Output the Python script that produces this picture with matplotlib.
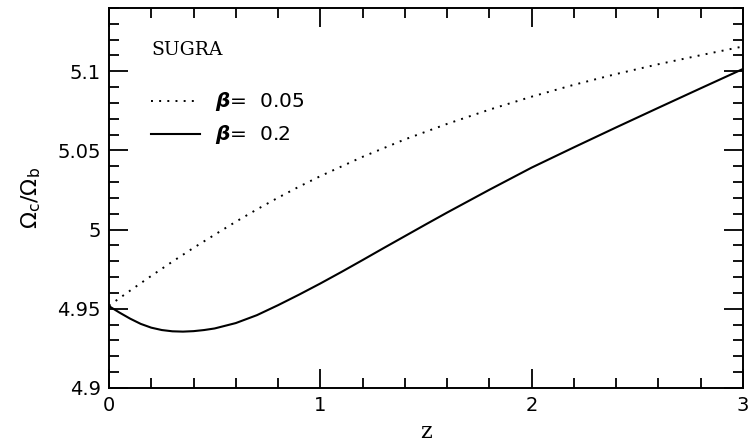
import matplotlib
matplotlib.use("Agg")
import matplotlib.pyplot as plt
from matplotlib.ticker import MultipleLocator

# Omega_c / Omega_b against redshift for two couplings
z_beta005 = [0.0, 0.1, 0.2, 0.3, 0.4, 0.5, 0.6, 0.7, 0.8, 0.9, 1.0, 1.2, 1.4, 1.6,
             1.8, 2.0, 2.2, 2.4, 2.6, 2.8, 3.0]
r_beta005 = [4.9520, 4.9615, 4.9708, 4.9798, 4.9885, 4.9968, 5.0050, 5.0128, 5.0202,
             5.0272, 5.0338, 5.0460, 5.0570, 5.0668, 5.0758, 5.0840, 5.0915, 5.0983,
             5.1045, 5.1102, 5.1157]

z_beta02 = [0.0, 0.05, 0.1, 0.15, 0.2, 0.25, 0.3, 0.35, 0.4, 0.45, 0.5, 0.6, 0.7, 0.8,
            0.9, 1.0, 1.1, 1.2, 1.3, 1.4, 1.5, 1.6, 1.7, 1.8, 1.9, 2.0, 2.2, 2.4,
            2.6, 2.8, 3.0]
r_beta02 = [4.9517, 4.9476, 4.9438, 4.9405, 4.9381, 4.9366, 4.9358, 4.9356, 4.9359,
            4.9366, 4.9376, 4.9410, 4.9460, 4.9523, 4.9590, 4.9660, 4.9733, 4.9808,
            4.9884, 4.9959, 5.0034, 5.0108, 5.0180, 5.0252, 5.0322, 5.0392, 5.0520,
            5.0646, 5.0770, 5.0893, 5.1015]

labels = [r"$\boldsymbol{\beta}$=  0.05", r"$\boldsymbol{\beta}$=  0.2"]
x_ticks = [0, 1, 2, 3]
y_ticks = [4.9, 4.95, 5.0, 5.05, 5.1]
y_ticklabels = ["4.9", "4.95", "5", "5.05", "5.1"]

plt.rcParams['font.family'] = ['DejaVu Sans']
plt.rcParams['mathtext.fontset'] = 'dejavusans'

fig = plt.figure(figsize=(7.48, 4.42), dpi=100)
ax = fig.add_axes([0.1457, 0.1222, 0.8476, 0.8597])

ax.plot(z_beta005, r_beta005, color='black', lw=1.4, ls=(0, (1, 3.2)))
ax.plot(z_beta02, r_beta02, color='black', lw=1.5)

ax.set_xlim(0, 3)
ax.set_ylim(4.9, 5.14)
ax.set_xticks(x_ticks)
ax.set_xticklabels([str(t) for t in x_ticks])
ax.set_yticks(y_ticks)
ax.set_yticklabels(y_ticklabels)
ax.xaxis.set_minor_locator(MultipleLocator(0.2))
ax.yaxis.set_minor_locator(MultipleLocator(0.01))

ax.tick_params(which='both', direction='in', top=True, right=True, width=1.3,
               labelsize=14, colors='black')
ax.tick_params(which='major', length=14, pad=6)
ax.tick_params(which='minor', length=7)
for s in ax.spines.values():
    s.set_linewidth(1.4)

ax.set_xlabel("z", fontsize=16, labelpad=4, family='DejaVu Serif')
ax.set_ylabel(r"$\Omega_{\rm c}/\Omega_{\rm b}$", fontsize=16, labelpad=10)

# key drawn in axes coordinates
ax.text(0.067, 0.889, "SUGRA", transform=ax.transAxes, fontsize=13.5, va='center',
        family='DejaVu Serif')
ax.plot([0.067, 0.143], [0.755, 0.755], transform=ax.transAxes, color='black',
        lw=1.4, ls=(0, (1, 3.2)))
ax.plot([0.067, 0.143], [0.668, 0.668], transform=ax.transAxes, color='black', lw=1.5)
ax.text(0.167, 0.755, labels[0], transform=ax.transAxes, fontsize=14.5, va='center')
ax.text(0.167, 0.668, labels[1], transform=ax.transAxes, fontsize=14.5, va='center')

fig.savefig("out.png", dpi=100)
